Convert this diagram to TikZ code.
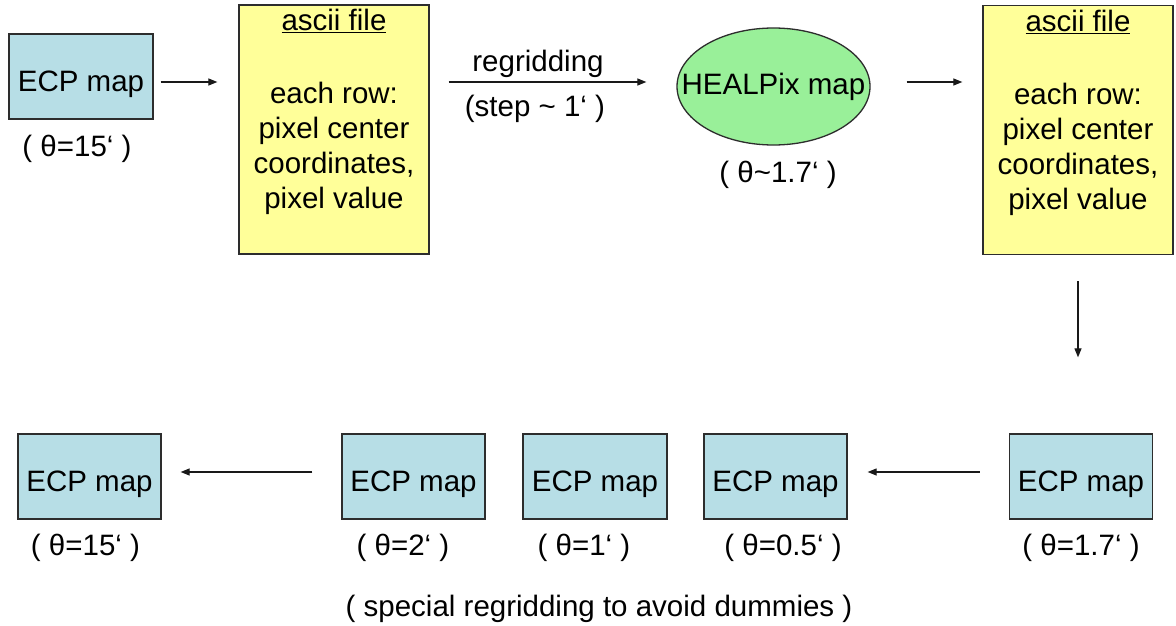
\documentclass[tikz,border=0pt]{standalone}
\usepackage{fontspec}
\setmainfont{Liberation Sans}
\usetikzlibrary{arrows.meta,shapes.geometric}
\definecolor{mapblue}{RGB}{183,222,230}
\definecolor{fileyellow}{RGB}{255,255,153}
\definecolor{pixgreen}{RGB}{153,240,153}
\definecolor{edge}{RGB}{45,45,45}
\begin{document}
\begin{tikzpicture}[x=1pt,y=-1pt,
  every node/.style={font=\fontsize{29.5}{35}\selectfont, inner sep=0pt, text=black},
  mapbox/.style={draw=edge, line width=1.3pt, fill=mapblue, minimum width=143pt,
    minimum height=85pt, text height=29.5pt, text depth=0pt},
  filebox/.style={draw=edge, line width=1.3pt, fill=fileyellow,
    minimum width=190pt, minimum height=249pt},
  filetext/.style={anchor=north, align=center},
  pixell/.style={ellipse, draw=edge, line width=1.3pt, fill=pixgreen,
    minimum width=193pt, minimum height=117pt},
  note/.style={anchor=base},
  flow/.style={draw=black!90, line width=1.2pt, -{Triangle[length=9pt,width=7pt]}},
]
\useasboundingbox (0,0) rectangle (1176,626);
\fill[white] (0,0) rectangle (1176,626);

% levels of the horizontal connectors
\coordinate (toprow) at (0,82);
\coordinate (botrow) at (0,472);

% ---- upper chain: ECP map -> ascii file -> HEALPix map -> ascii file
\node[mapbox, minimum width=144pt] (src) at (81,76.5) {ECP map};
\node[note] (srcres) at (77,156) {( θ=15‘ )};

\node[filebox] (asciiA) at (334,129.5) {};
\node[filetext] (asciiAtxt) at (334,8.5)
  {\underline{ascii file}\\[38pt]each row:\\pixel center\\coordinates,\\pixel value};

\node[pixell] (hpx) at (773.5,86.5) {};
\node[note] (hpxname) at (773.5,95) {HEALPix map};
\node[note] (hpxres) at (778,182) {( θ\textasciitilde1.7‘ )};

\node[filebox] (asciiB) at (1078,130) {};
\node[filetext] (asciiBtxt) at (1078,9.5)
  {\underline{ascii file}\\[38pt]each row:\\pixel center\\coordinates,\\pixel value};

\node[note] (regrid) at (538,72) {regridding};
\node[note] (regridstep) at (535,117) {(step \textasciitilde\ 1‘ )};

% ---- lower chain of ECP maps
\node[mapbox] (m17) at (1081,476.5) {ECP map};
\node[note] (m17res) at (1081,555) {( θ=1.7‘ )};
\node[mapbox] (m05) at (775.5,476.5) {ECP map};
\node[note] (m05res) at (783,555) {( θ=0.5‘ )};
\node[mapbox, minimum width=144pt] (m1) at (595,476.5) {ECP map};
\node[note] (m1res) at (584,555) {( θ=1‘ )};
\node[mapbox] (m2) at (413.5,476.5) {ECP map};
\node[note] (m2res) at (403,555) {( θ=2‘ )};
\node[mapbox] (m15) at (89.5,476.5) {ECP map};
\node[note] (m15res) at (85.5,555) {( θ=15‘ )};

\node[note] (special) at (599,616) {( special regridding to avoid dummies )};

% ---- connectors
\draw[flow, shorten <=7pt, shorten >=21pt] (src.east |- toprow) -- (asciiA.west |- toprow);
\draw[flow, shorten <=19pt, shorten >=30pt] (asciiA.east |- toprow) -- (hpx.west |- toprow);
\draw[flow, shorten <=36pt, shorten >=20pt] (hpx.east |- toprow) -- (asciiB.west |- toprow);
\draw[flow, shorten <=26pt, shorten >=76pt] (asciiB.south) -- (asciiB.south |- m17.north);
\draw[flow, shorten <=29pt, shorten >=20pt] (m17.west |- botrow) -- (m05.east |- botrow);
\draw[flow, shorten <=29pt, shorten >=19pt] (m2.west |- botrow) -- (m15.east |- botrow);
\end{tikzpicture}
\end{document}
